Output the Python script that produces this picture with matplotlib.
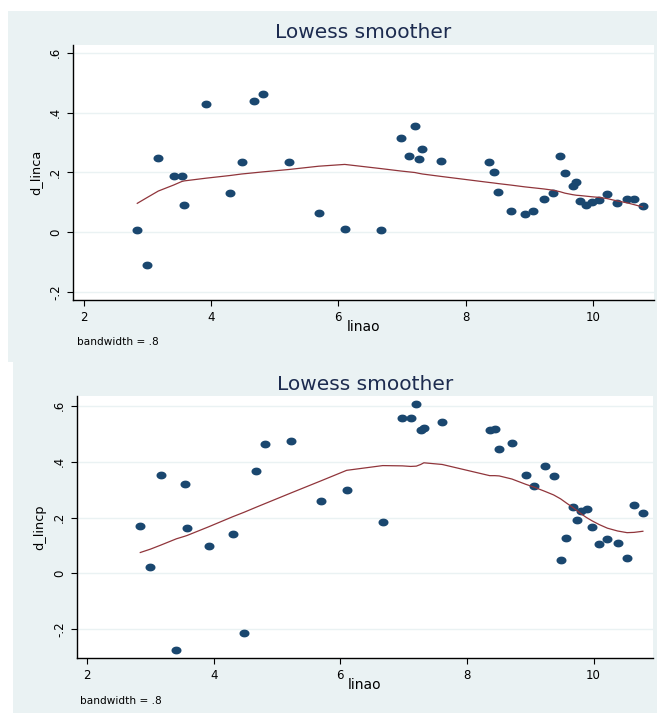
import numpy as np
import matplotlib
matplotlib.use("Agg")
import matplotlib.pyplot as plt
from matplotlib.patches import Rectangle
from matplotlib.path import Path

plt.rcParams['font.family'] = ['DejaVu Sans']

# ---------------- data ----------------
linao = [2.84, 3.00, 3.17, 3.41, 3.54, 3.58, 3.92, 4.30, 4.48, 4.67, 4.81,
         5.22, 5.69, 6.10, 6.67, 6.98, 7.11, 7.20, 7.27, 7.32, 7.61,
         8.36, 8.44, 8.51, 8.71, 8.93, 9.06, 9.23, 9.37, 9.48, 9.56,
         9.68, 9.74, 9.80, 9.89, 9.98, 10.09, 10.22, 10.38, 10.53, 10.64, 10.78]

d_linca = [0.009, -0.110, 0.248, 0.187, 0.189, 0.093, 0.429, 0.131, 0.235, 0.438, 0.462,
           0.235, 0.065, 0.010, 0.007, 0.314, 0.254, 0.354, 0.244, 0.277, 0.239,
           0.235, 0.200, 0.135, 0.071, 0.061, 0.070, 0.111, 0.132, 0.254, 0.197,
           0.155, 0.169, 0.104, 0.090, 0.101, 0.107, 0.128, 0.099, 0.110, 0.111, 0.088]

lowess_linca = [0.097, 0.117, 0.138, 0.158, 0.170, 0.172, 0.181, 0.190, 0.195, 0.199, 0.202,
                0.210, 0.221, 0.227, 0.213, 0.205, 0.202, 0.200, 0.197, 0.195, 0.187,
                0.167, 0.165, 0.163, 0.158, 0.152, 0.149, 0.145, 0.141, 0.136, 0.131,
                0.126, 0.124, 0.123, 0.121, 0.119, 0.117, 0.113, 0.105, 0.099, 0.093, 0.085]

d_lincp = [0.169, 0.0225, 0.354, -0.275, 0.320, 0.161, 0.099, 0.140, -0.212, 0.368, 0.464,
           0.475, 0.258, 0.299, 0.183, 0.556, 0.556, 0.605, 0.514, 0.521, 0.543,
           0.514, 0.518, 0.445, 0.466, 0.352, 0.314, 0.383, 0.350, 0.049, 0.126,
           0.237, 0.191, 0.225, 0.229, 0.168, 0.106, 0.124, 0.109, 0.055, 0.246, 0.217]

lowess_lincp = [0.075, 0.087, 0.102, 0.124, 0.133, 0.136, 0.167, 0.203, 0.219, 0.237, 0.250,
                0.288, 0.331, 0.369, 0.386, 0.385, 0.383, 0.384, 0.390, 0.396, 0.390,
                0.350, 0.350, 0.349, 0.338, 0.319, 0.309, 0.294, 0.281, 0.267, 0.254,
                0.235, 0.225, 0.214, 0.200, 0.188, 0.175, 0.162, 0.152, 0.146, 0.147, 0.151]

x_ticks = [2, 4, 6, 8, 10]
x_ticklabels = ['2', '4', '6', '8', '10']
y_ticks = [-0.2, 0, 0.2, 0.4, 0.6]
y_ticklabels = ['-.2', '0', '.2', '.4', '.6']

# ---------------- style ----------------
W, H = 657, 713
BG = '#eaf2f3'
NAVY = '#1a476f'
MAROON = '#90353b'
TITLE_C = '#1c2b4f'

fig = plt.figure(figsize=(W / 100, H / 100), dpi=100)
fig.patch.set_facecolor('white')

def fx(px):
    return px / W

def fy(py):
    return 1 - py / H

# ellipse marker
t = np.linspace(0, 2 * np.pi, 60)
ell = Path(np.column_stack([np.cos(t), 0.78 * np.sin(t)]), closed=True)

def panel(bg_box, ax_box, xlim, ylim, y, ys, ylabel, title_y, xlabel_y, note_xy):
    bx0, by0, bx1, by1 = bg_box
    rect = Rectangle((fx(bx0), fy(by1)), fx(bx1 - bx0), (by1 - by0) / H,
                     transform=fig.transFigure, facecolor=BG,
                     edgecolor='none', zorder=-5)
    fig.patches.append(rect)
    l, tp, r, b = ax_box
    ax = fig.add_axes([fx(l), fy(b), fx(r - l), (b - tp) / H])
    ax.set_zorder(5)
    ax.set_facecolor('white')
    ax.set_xlim(*xlim)
    ax.set_ylim(*ylim)
    for yt in y_ticks:
        ax.axhline(yt, color=BG, lw=1.0, zorder=1)
    ax.plot(linao, y, linestyle='none', marker=ell, markersize=7.2,
            color=NAVY, markeredgewidth=0, zorder=3)
    ax.plot(linao, ys, color=MAROON, lw=0.9, zorder=4)
    ax.set_xticks(x_ticks)
    ax.set_xticklabels(x_ticklabels)
    ax.set_yticks(y_ticks)
    ax.set_yticklabels(y_ticklabels, rotation=90, va='center')
    ax.tick_params(axis='both', direction='out', length=4.5, width=0.8,
                   labelsize=8.5, colors='black', pad=3.5)
    for s in ['top', 'right']:
        ax.spines[s].set_visible(False)
    for s in ['left', 'bottom']:
        ax.spines[s].set_linewidth(1.0)
    ax.set_ylabel(ylabel, fontsize=9.3, labelpad=5)
    fig.text(fx((l + r) / 2), fy(title_y), 'Lowess smoother', ha='center',
             va='center', fontsize=14.5, color=TITLE_C, zorder=6)
    fig.text(fx((l + r) / 2), fy(xlabel_y), 'linao', ha='center', va='center',
             fontsize=10, zorder=6)
    fig.text(fx(note_xy[0]), fy(note_xy[1]), 'bandwidth = .8', ha='left',
             va='center', fontsize=7.6, zorder=6)
    return ax

panel((8, 11, 657, 362), (73, 45, 654, 300), (1.83, 10.96), (-0.226, 0.626),
      d_linca, lowess_linca, 'd_linca', 33, 327, (77, 342))
panel((12.7, 362, 657, 713), (77, 396, 653, 658), (1.84, 10.94), (-0.3025, 0.635),
      d_lincp, lowess_lincp, 'd_lincp', 384, 685, (80.5, 701))

fig.savefig('out.png', dpi=100, facecolor='white')
